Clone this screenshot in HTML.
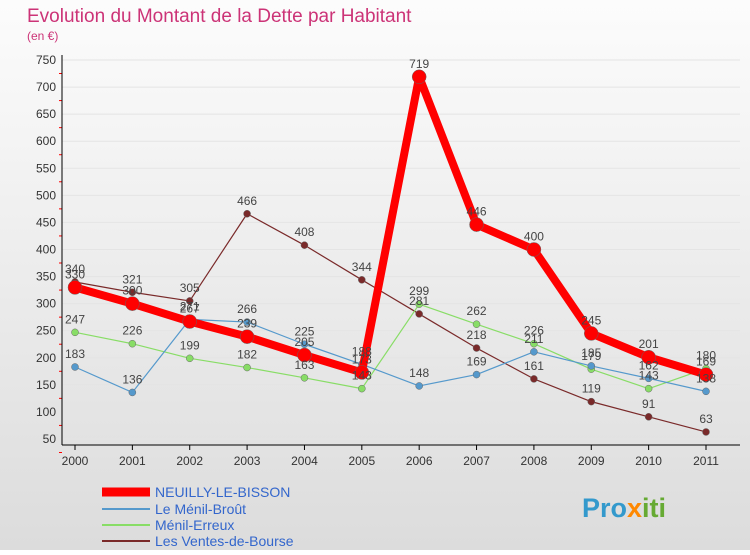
<!DOCTYPE html>
<html><head><meta charset="utf-8"><style>
body{margin:0;width:750px;height:550px;overflow:hidden;font-family:"Liberation Sans",sans-serif;}
</style></head><body>
<svg width="750" height="550" xmlns="http://www.w3.org/2000/svg">
<defs><linearGradient id="bg" x1="0" y1="0" x2="0" y2="1"><stop offset="0" stop-color="#fcfcfc"/><stop offset="1" stop-color="#dcdcdc"/></linearGradient></defs>
<rect width="750" height="550" fill="url(#bg)"/>
<text x="27" y="22" font-size="19" fill="#cc3377">Evolution du Montant de la Dette par Habitant</text>
<text x="27" y="40" font-size="12" fill="#cc3377">(en €)</text>
<g id="grid"></g><g id="axes"></g><g id="series"></g><g id="labels"></g>
<g font-size="14" fill="#3366cc">
<line x1="102" y1="492" x2="150" y2="492" stroke="#ff0000" stroke-width="9"/>
<text x="155" y="497">NEUILLY-LE-BISSON</text>
<line x1="102" y1="509" x2="150" y2="509" stroke="#5599cc" stroke-width="2"/>
<text x="155" y="514">Le Ménil-Broût</text>
<line x1="102" y1="525" x2="150" y2="525" stroke="#88dd66" stroke-width="2"/>
<text x="155" y="530">Ménil-Erreux</text>
<line x1="102" y1="541" x2="150" y2="541" stroke="#7a2a2a" stroke-width="2"/>
<text x="155" y="546">Les Ventes-de-Bourse</text>
</g>
<text x="582" y="517" font-size="27" font-weight="bold" fill="#3399cc">Pro<tspan fill="#ff8800">x</tspan><tspan fill="#66aa33">iti</tspan></text>
</svg>
<script>
const years=["2000","2001","2002","2003","2004","2005","2006","2007","2008","2009","2010","2011"];
const yTicks=[50,100,150,200,250,300,350,400,450,500,550,600,650,700,750];
const neuilly=[330,300,267,239,205,173,719,446,400,245,201,169];
const menilBrout=[183,136,271,266,225,188,148,169,211,185,162,138];
const menilErreux=[247,226,199,182,163,143,299,262,226,179,143,180];
const ventes=[340,321,305,466,408,344,281,218,161,119,91,63];
const NS="http://www.w3.org/2000/svg";
const x=i=>75+i*(706-75)/11;
const y=v=>439-(v-50)*(379/700);
function mk(tag,attrs,parent){const e=document.createElementNS(NS,tag);for(const k in attrs)e.setAttribute(k,attrs[k]);document.getElementById(parent).appendChild(e);return e;}
yTicks.forEach(t=>{
 const g=mk('line',{x1:62,x2:740,y1:y(t),y2:y(t),stroke:'#e4e4e4','stroke-width':1},'grid');
 
 
 const tx=mk('text',{x:56,y:y(t)+4,'font-size':12,'text-anchor':'end',fill:'#333'},'axes');
 tx.textContent=t;
 
 
 const tk=mk('line',{x1:59,x2:62,y1:y(t)+13.5,y2:y(t)+13.5,stroke:'#ff0000'},'axes');
 
 
});
const ya=mk('line',{x1:62,x2:62,y1:55,y2:445,stroke:'#000'},'axes');


const xa=mk('line',{x1:62,x2:740,y1:445,y2:445,stroke:'#000'},'axes');


years.forEach((yr,i)=>{
 const tk=mk('line',{x1:x(i),x2:x(i),y1:445,y2:450,stroke:'#000'},'axes');
 
 
 const t=mk('text',{x:x(i),y:465,'font-size':12,'text-anchor':'middle',fill:'#333'},'axes');
 t.textContent=yr;
 
 
});
function series(data,color,w,r,name){
 const p=mk('polyline',{points:data.map((v,i)=>x(i)+','+y(v)).join(' '),fill:'none',stroke:color,'stroke-width':w,'stroke-linejoin':'round'},'series');
 
 
 data.forEach((v,i)=>{
  const c=mk('circle',{cx:x(i),cy:y(v),r:r,fill:color,stroke:'#666','stroke-width':0.5},'series');
  
  
  const t=mk('text',{x:x(i),y:y(v)-9,'font-size':12,'text-anchor':'middle',fill:'#444'},'labels');
  t.textContent=v;
  
  
 });
}
series(ventes,'#7a2a2a',1.2,3.5,'ventes');
series(menilErreux,'#88dd66',1.2,3.5,'menil-erreux');
series(menilBrout,'#5599cc',1.2,3.5,'menil-brout');
series(neuilly,'#ff0000',8,7,'neuilly');
</script>
</body></html>
